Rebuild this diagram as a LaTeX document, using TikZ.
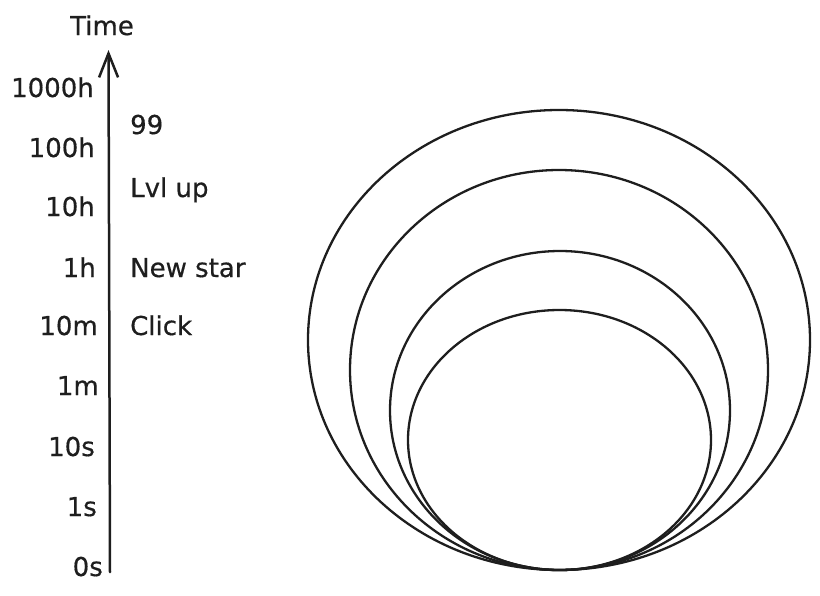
\documentclass[tikz,border=0pt]{standalone}
\usepackage{fontspec}
\setmainfont{DejaVu Sans}
\newfontfamily\handfont{DejaVu Sans}[FakeBold=0.5]
\usetikzlibrary{arrows.meta}
\definecolor{ink}{HTML}{1E1E1E}
\begin{document}
\begin{tikzpicture}[x=1pt,y=-1pt,
  lbl/.style={font=\handfont\fontsize{26}{30}\selectfont, text=ink, inner sep=0pt},
  ring/.style={draw=ink, line width=2.3pt},
  axisline/.style={draw=ink, line width=2.5pt, line cap=round, -{Straight Barb[length=24pt,width=19pt,line width=2.5pt]}}]
\useasboundingbox (0,0) rectangle (820,595);
% axis
\coordinate (axb) at (110,572);
\coordinate (axt) at (108.5,50);
\draw[axisline] (axb) -- (axt);
\node[lbl, anchor=base] (time) at (102,35) {Time};
% left labels
\node[lbl, anchor=base east] (l1000h) at (94,97) {1000h};
\node[lbl, anchor=base east] (l100h) at (95,157) {100h};
\node[lbl, anchor=base east] (l10h) at (95,216) {10h};
\node[lbl, anchor=base east] (l1h) at (96,277) {1h};
\node[lbl, anchor=base east] (l10m) at (98,335) {10m};
\node[lbl, anchor=base east] (l1m) at (99,395) {1m};
\node[lbl, anchor=base east] (l10s) at (95,456) {10s};
\node[lbl, anchor=base east] (l1s) at (97,516) {1s};
\node[lbl, anchor=base east] (l0s) at (103,576) {0s};
% right labels
\node[lbl, anchor=base west] (r99) at (130,134) {99};
\node[lbl, anchor=base west] (rlvl) at (130,197) {Lvl up};
\node[lbl, anchor=base west] (rstar) at (130,277) {New star};
\node[lbl, anchor=base west] (rclick) at (130,335) {Click};
% rings
\draw[ring] (559,340) ellipse [x radius=251, y radius=230];
\draw[ring] (559,370) ellipse [x radius=209, y radius=200];
\draw[ring] (560,410.5) ellipse [x radius=170, y radius=159.5];
\draw[ring] (559.5,440) ellipse [x radius=151.5, y radius=130];
\end{tikzpicture}
\end{document}
